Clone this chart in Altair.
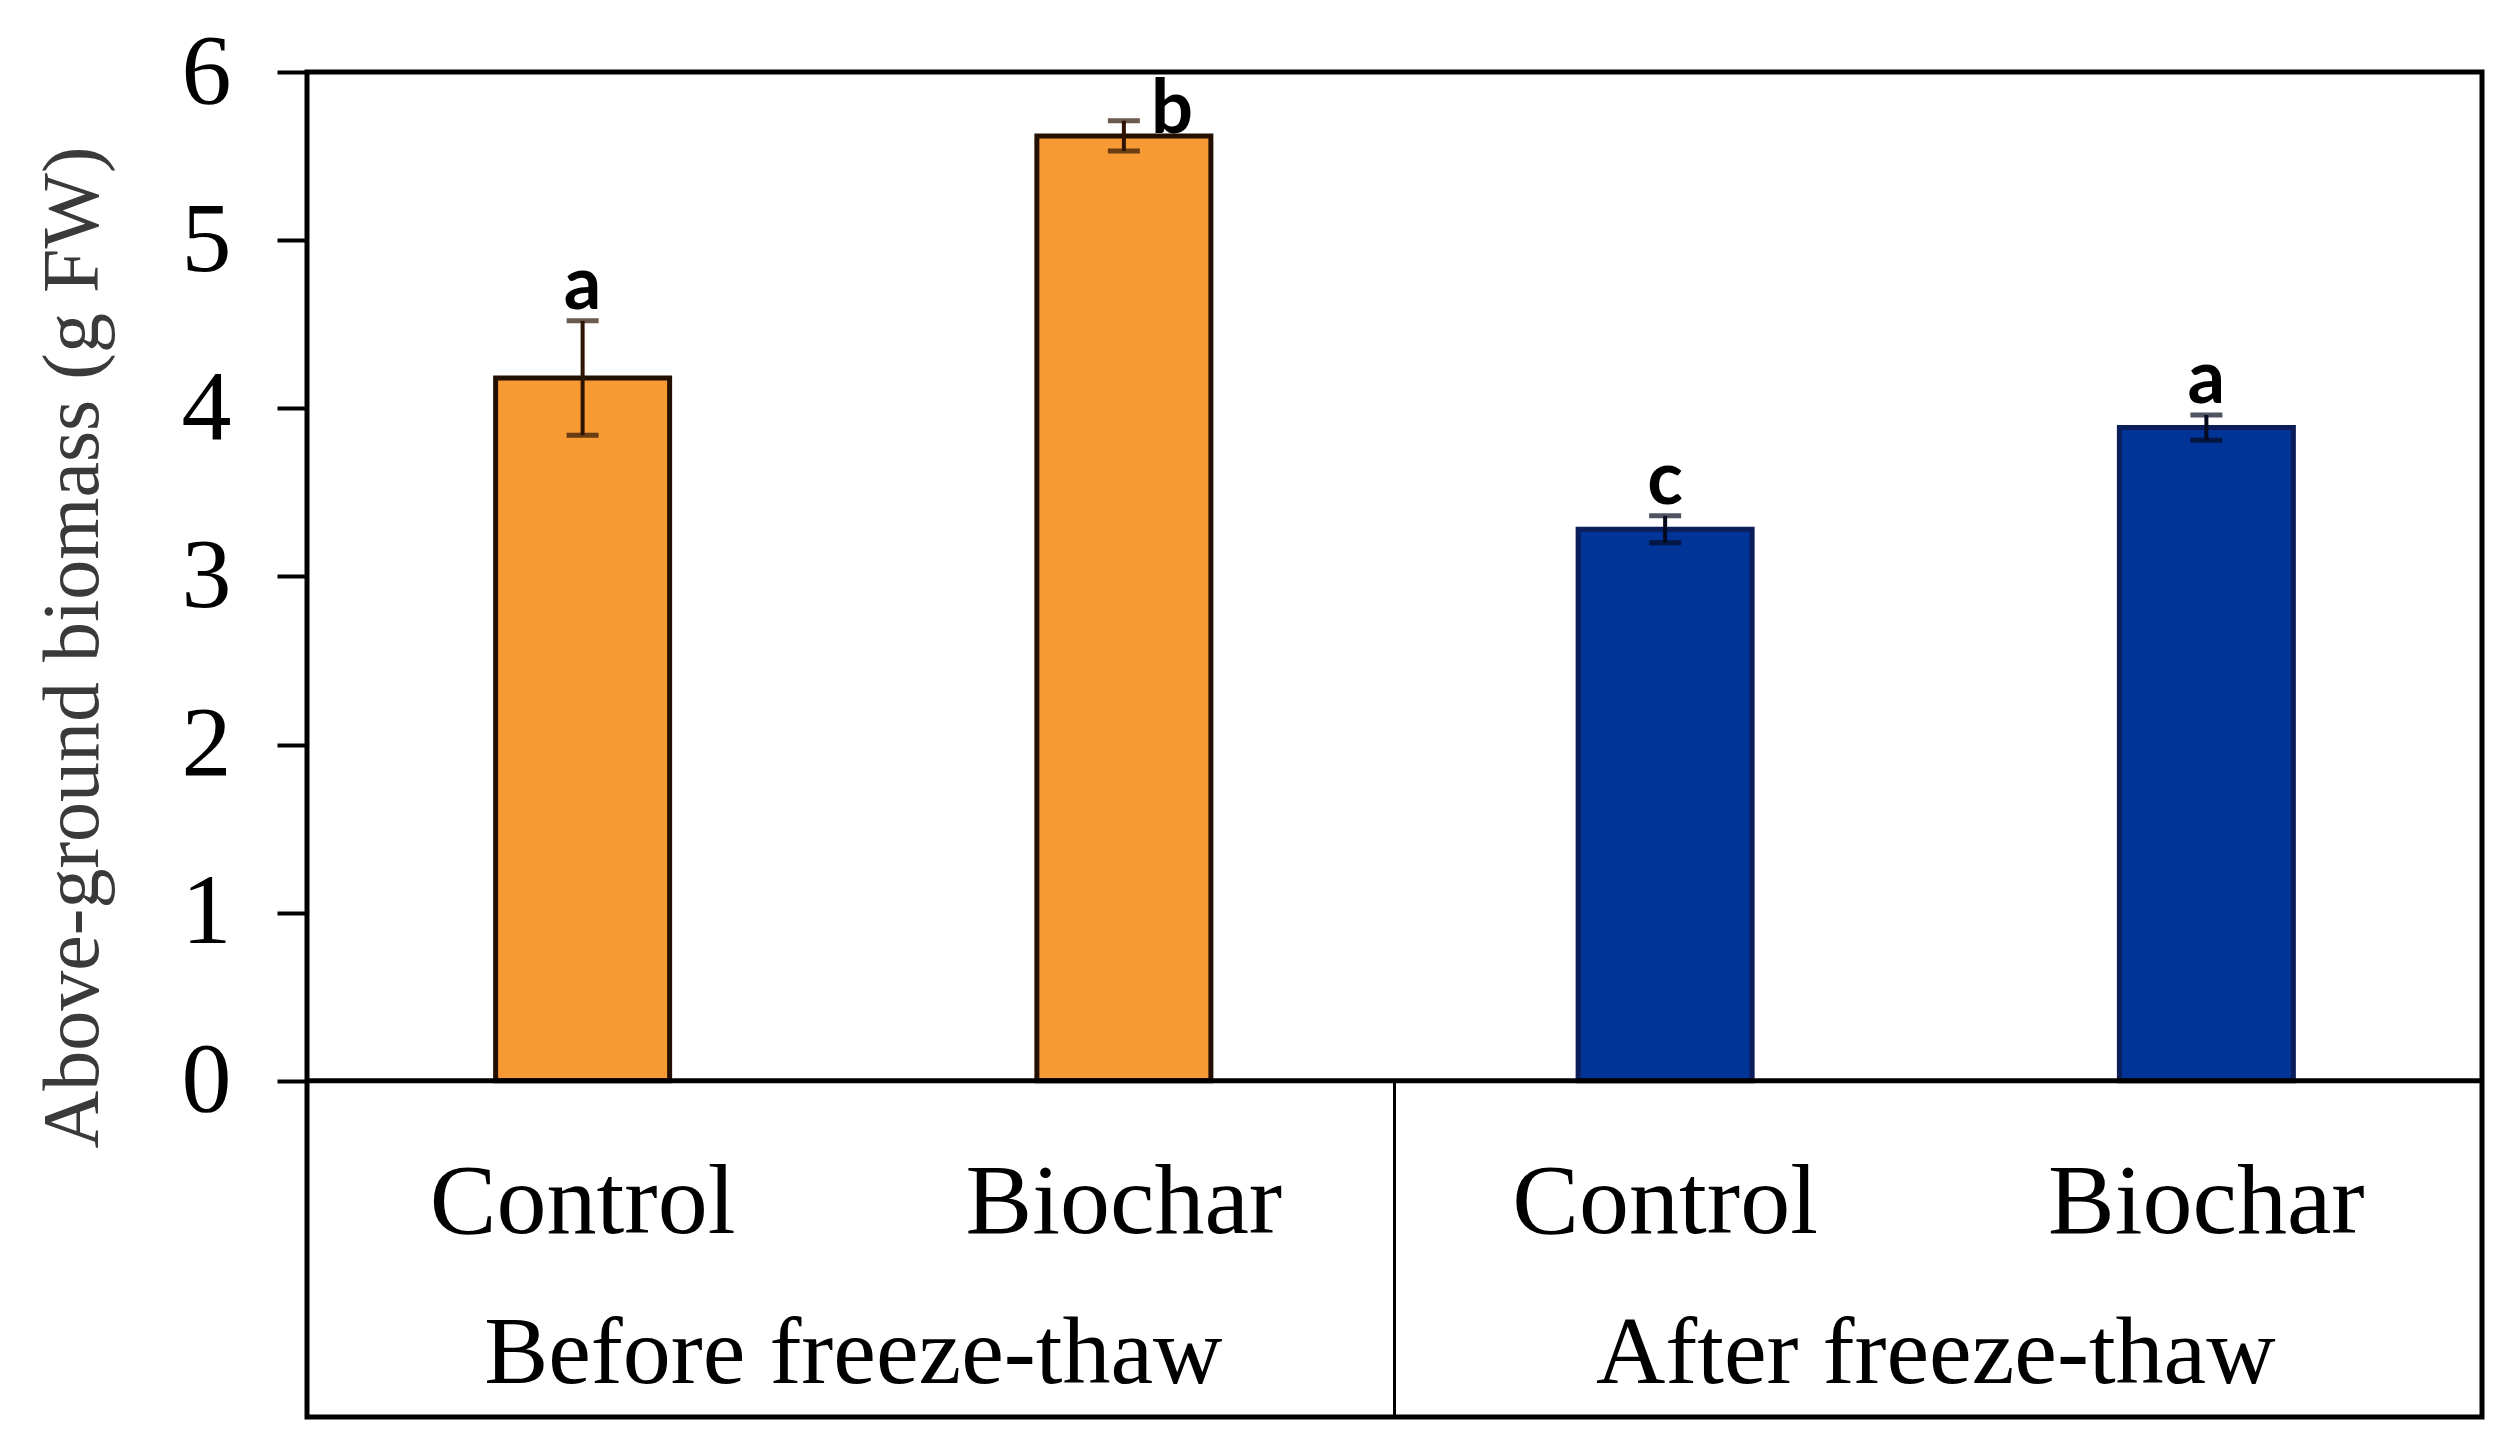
import altair as alt
import pandas as pd

# ---- data ----
treatments = ["Control", "Biochar", "Control", "Biochar"]
periods = ["Before freeze-thaw", "Before freeze-thaw", "After freeze-thaw", "After freeze-thaw"]
means = [4.18, 5.62, 3.28, 3.885]
errors = [0.34, 0.09, 0.08, 0.075]
letters = ["a", "b", "c", "a"]
period_order = ["Before freeze-thaw", "After freeze-thaw"]
y_ticks = [0, 1, 2, 3, 4, 5, 6]

df = pd.DataFrame({
    "idx": list(range(len(treatments))),
    "treatment": treatments,
    "period": periods,
    "mean": means,
    "err": errors,
    "letter": letters,
})
df["pos"] = df["idx"] + 0.5
df["lo"] = df["mean"] - df["err"]
df["hi"] = df["mean"] + df["err"]

grp = df.groupby("period", sort=False)["pos"].agg(["mean", "max"]).reset_index()
grp.columns = ["period", "pos", "maxpos"]
# boundary between the two period groups
div_df = pd.DataFrame({"x": [grp["maxpos"].iloc[0] + 0.5], "top": [0.0], "bottom": [-2.0]})
zero_df = pd.DataFrame({"y": [0.0]})

XS = alt.Scale(domain=[0, len(treatments)], nice=False, zero=False)
X = alt.X("pos:Q", scale=XS, axis=None)
YSCALE = alt.Scale(domain=[-2, 6], nice=False, zero=False)

base = alt.Chart(df)

fill_scale = alt.Scale(domain=period_order, range=["#F89A34", "#003497"])
stroke_scale = alt.Scale(domain=period_order, range=["#241000", "#0B1E5A"])
err_scale = alt.Scale(domain=period_order, range=["#2E1403", "#050A1E"])

bars = base.mark_bar(size=174, strokeWidth=5).encode(
    x=X,
    y=alt.Y(
        "mean:Q",
        scale=YSCALE,
        axis=alt.Axis(
            values=y_ticks,
            format="d",
            title="Above-ground biomass (g FW)",
            grid=False,
            domain=False,
            ticks=True,
            tickSize=30,
            tickWidth=4,
            tickColor="black",
            labelFont="Liberation Serif",
            labelFontSize=100,
            labelColor="black",
            labelPadding=46,
            titleFont="Liberation Serif",
            titleFontSize=80,
            titleFontWeight="normal",
            titleColor="#3a3a3a",
            titleAngle=270,
            titleBaseline="alphabetic",
            titleX=-210,
            titleY=575,
        ),
    ),
    y2=alt.datum(0),
    fill=alt.Fill("period:N", scale=fill_scale, legend=None),
    stroke=alt.Stroke("period:N", scale=stroke_scale, legend=None),
)

stems = base.mark_rule(strokeWidth=4).encode(
    x=X,
    y=alt.Y("lo:Q", scale=YSCALE),
    y2="hi:Q",
    color=alt.Color("period:N", scale=err_scale, legend=None),
)

caps_hi = base.mark_tick(orient="horizontal", size=32, thickness=5).encode(
    x=X,
    y=alt.Y("hi:Q", scale=YSCALE),
    color=alt.Color("period:N", scale=err_scale, legend=None),
)
caps_lo = base.mark_tick(orient="horizontal", size=32, thickness=5).encode(
    x=X,
    y=alt.Y("lo:Q", scale=YSCALE),
    color=alt.Color("period:N", scale=err_scale, legend=None),
)

letter_style = dict(font="Lato", fontWeight="bold", fontSize=74, baseline="alphabetic",
                    align="center", color="black")
sig = base.transform_filter(alt.datum.idx != 1).mark_text(dy=-12, **letter_style).encode(
    x=X, y=alt.Y("hi:Q", scale=YSCALE), text="letter:N"
)
sig_side = base.transform_filter(alt.datum.idx == 1).mark_text(dx=48, dy=12, **letter_style).encode(
    x=X, y=alt.Y("hi:Q", scale=YSCALE), text="letter:N"
)

zero_line = alt.Chart(zero_df).mark_rule(color="black", strokeWidth=5).encode(
    y=alt.Y("y:Q", scale=YSCALE)
)

divider = alt.Chart(div_df).mark_rule(color="black", strokeWidth=3).encode(
    x=alt.X("x:Q", scale=XS, axis=None),
    y=alt.Y("top:Q", scale=YSCALE),
    y2="bottom:Q",
)

cat_labels = base.mark_text(font="Liberation Serif", fontSize=100, baseline="alphabetic",
                            align="center", color="black").encode(
    x=X, y=alt.datum(-0.904), text="treatment:N"
)

grp_labels = alt.Chart(grp).mark_text(font="Liberation Serif", fontSize=96, baseline="alphabetic",
                                      align="center", color="black").encode(
    x=alt.X("pos:Q", scale=XS, axis=None),
    y=alt.datum(-1.80),
    text="period:N",
)

chart = alt.layer(
    bars, stems, caps_hi, caps_lo, sig, sig_side, zero_line, divider, cat_labels, grp_labels
).properties(
    width=2175,
    height=1345,
    autosize=alt.AutoSizeParams(type="none"),
    padding={"left": 299, "top": 64, "right": 20, "bottom": 10},
    background="white",
).configure_view(
    stroke="black",
    strokeWidth=5,
)

chart.save("out.html", embed_options={"renderer": "svg", "actions": False})
